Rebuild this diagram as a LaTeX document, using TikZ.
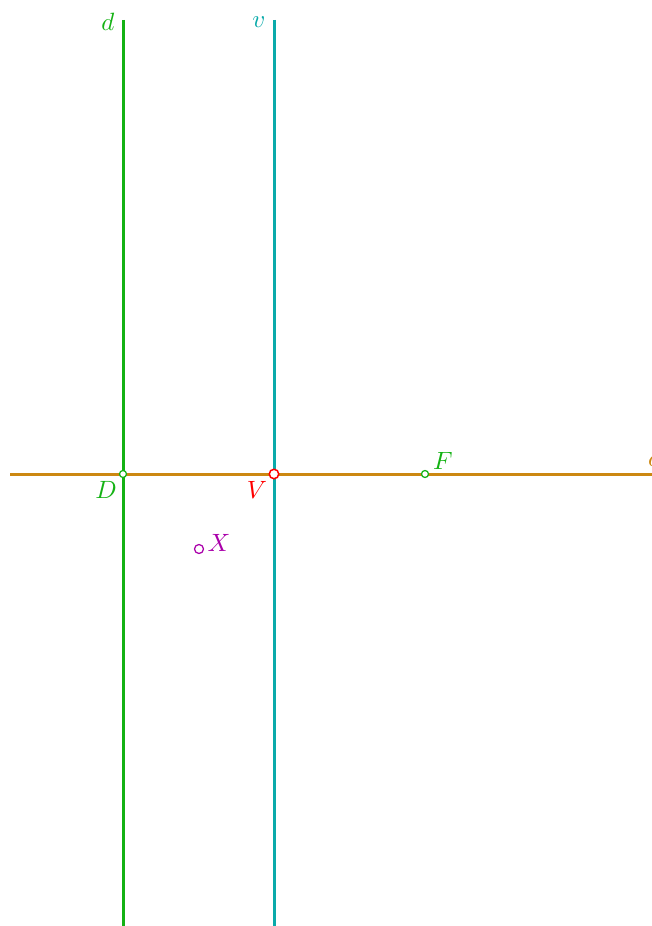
\documentclass[tikz,border=0pt]{standalone}
\begin{document}
\begin{tikzpicture}[x=0.4pt,y=-0.4pt,
  ln/.style={line width=1.2pt},
  pt/.style={circle,draw,fill=white,inner sep=0pt,minimum size=#1},
  lbl/.style={inner sep=1pt}]
\definecolor{cgreen}{RGB}{20,178,20}
\definecolor{ccyan}{RGB}{10,170,170}
\definecolor{corange}{RGB}{204,136,17}
\definecolor{cpurple}{RGB}{170,0,170}
\useasboundingbox (0,0) rectangle (652,926);
\coordinate (dtop) at (123,20);
\coordinate (dbot) at (123,926);
\coordinate (vtop) at (274,20);
\coordinate (vbot) at (274,926);
\coordinate (oleft) at (10,474);
\coordinate (oright) at (660,474);
\draw[ln,corange] (oleft) -- (oright);
\draw[ln,cgreen] (dtop) -- (dbot);
\draw[ln,ccyan] (vtop) -- (vbot);
\node[pt=2.8pt,draw=cgreen,line width=0.5pt] (D) at (123,474) {};
\node[pt=3.8pt,draw=red,line width=0.6pt] (V) at (274,474) {};
\node[pt=2.8pt,draw=cgreen,line width=0.5pt] (F) at (425,474) {};
\node[pt=3.6pt,draw=cpurple,line width=0.5pt] (X) at (199,549) {};
\node[lbl,cgreen] (ld) at (108,22) {$d$};
\node[lbl,ccyan] (lv) at (259,22) {$v$};
\node[lbl,cgreen] (lD) at (106,490) {$D$};
\node[lbl,red] (lV) at (257,490) {$V$};
\node[lbl,cgreen] (lF) at (443,461) {$F$};
\node[lbl,cpurple] (lX) at (219,543) {$X$};
\node[lbl,corange,anchor=west] (lo) at (645,461) {$o$};
\end{tikzpicture}
\end{document}
